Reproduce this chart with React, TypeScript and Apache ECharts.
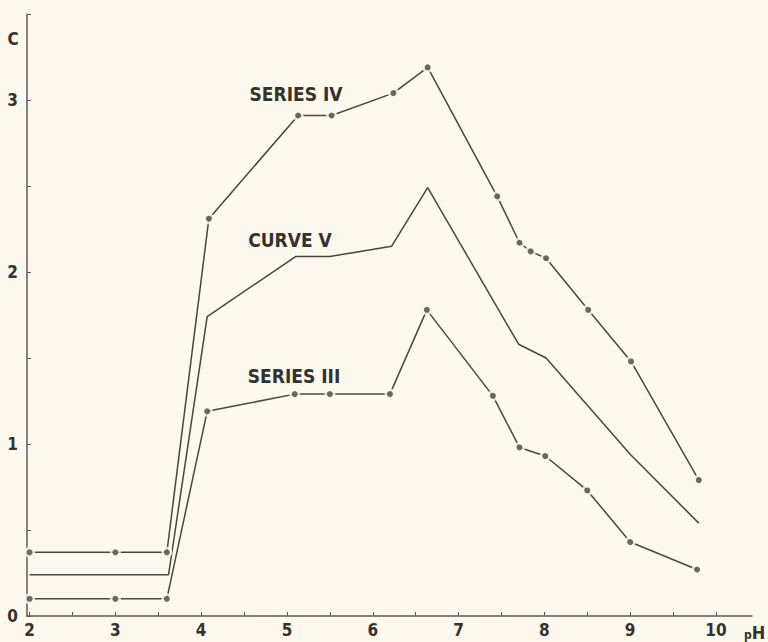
import React, { useEffect, useRef } from "react";
import * as echarts from "echarts";

// pH values and concentrations
const pHSeriesIV = [2, 3, 3.6, 4.09, 5.13, 5.52, 6.24, 6.64, 7.45, 7.71, 7.84, 8.02, 8.51, 9.01, 9.8];
const cSeriesIV = [0.37, 0.37, 0.37, 2.31, 2.91, 2.91, 3.04, 3.19, 2.44, 2.17, 2.12, 2.08, 1.78, 1.48, 0.79];

const pHSeriesIII = [2, 3, 3.6, 4.07, 5.09, 5.5, 6.2, 6.63, 7.4, 7.71, 8.01, 8.5, 9.0, 9.78];
const cSeriesIII = [0.1, 0.1, 0.1, 1.19, 1.29, 1.29, 1.29, 1.78, 1.28, 0.98, 0.93, 0.73, 0.43, 0.27];

const pHCurveV = [2, 3.62, 4.07, 5.1, 5.5, 6.22, 6.64, 7.7, 8.02, 9.0, 9.8];
const cCurveV = [0.24, 0.24, 1.74, 2.09, 2.09, 2.15, 2.49, 1.58, 1.5, 0.94, 0.54];

const xTickValues = [2, 2.5, 3, 3.5, 4, 4.5, 5, 5.5, 6, 6.5, 7, 7.5, 8, 8.5, 9, 9.5, 10];
const xLabelValues = [2, 3, 4, 5, 6, 7, 8, 9, 10];
const yLabelValues = [0, 1, 2, 3];

const BG = "#fdf9ee";
const INK = "#4a4541";
const AXIS = "#5e5954";
const TEXT = "#35312d";
const FONT = "'DejaVu Sans Condensed', 'DejaVu Sans', sans-serif";

const zip = (xs: number[], ys: number[]) => xs.map((x, i) => [x, ys[i]]);

export default function App() {
  const ref = useRef<HTMLDivElement>(null);

  useEffect(() => {
    if (!ref.current) return;
    const chart = echarts.init(ref.current, null, { renderer: "svg" });
    const iv = zip(pHSeriesIV, cSeriesIV);
    const iii = zip(pHSeriesIII, cSeriesIII);
    const v = zip(pHCurveV, cCurveV);
    const dots = [...iv, ...iii];

    const labelStyle = {
      fontSize: 19,
      fontWeight: "bold",
      fontFamily: FONT,
      fill: TEXT,
      align: "center",
      verticalAlign: "middle",
    };

    chart.setOption({
      animation: false,
      backgroundColor: BG,
      grid: { left: 27, right: 16, top: 14, bottom: 26, containLabel: false },
      xAxis: {
        type: "value",
        min: 1.97,
        max: 10.42,
        axisLine: { show: true, lineStyle: { color: AXIS, width: 1.5 } },
        axisTick: {
          show: true,
          inside: true,
          length: 4,
          customValues: xTickValues,
          lineStyle: { color: AXIS, width: 1 },
        },
        axisLabel: {
          customValues: xLabelValues,
          color: TEXT,
          fontSize: 17,
          fontWeight: "bold",
          fontFamily: FONT,
          margin: 5,
          formatter: (val: number) => String(val),
        },
        splitLine: { show: false },
      },
      yAxis: {
        type: "value",
        min: 0,
        max: 3.5,
        interval: 0.5,
        axisLine: { show: true, lineStyle: { color: AXIS, width: 1.5 } },
        axisTick: { show: true, inside: true, length: 4, lineStyle: { color: AXIS, width: 1 } },
        axisLabel: {
          color: TEXT,
          fontSize: 17,
          fontWeight: "bold",
          fontFamily: FONT,
          margin: 9,
          formatter: (val: number) => (yLabelValues.includes(val) ? String(val) : ""),
        },
        splitLine: { show: false },
      },
      series: [
        {
          name: "Series IV",
          type: "line",
          data: iv,
          showSymbol: false,
          silent: true,
          lineStyle: { color: INK, width: 1.5 },
          z: 2,
        },
        {
          name: "Curve V",
          type: "line",
          data: v,
          showSymbol: false,
          silent: true,
          lineStyle: { color: INK, width: 1.5 },
          z: 2,
        },
        {
          name: "Series III",
          type: "line",
          data: iii,
          showSymbol: false,
          silent: true,
          lineStyle: { color: INK, width: 1.5 },
          z: 2,
        },
        {
          name: "gaps",
          type: "scatter",
          data: dots,
          symbol: "circle",
          symbolSize: 11,
          silent: true,
          itemStyle: { color: BG },
          z: 3,
        },
        {
          name: "points",
          type: "scatter",
          data: dots,
          symbol: "circle",
          symbolSize: 6,
          silent: true,
          itemStyle: { color: INK },
          z: 4,
        },
      ],
      graphic: [
        { type: "text", x: 296, y: 94, style: { ...labelStyle, text: "SERIES IV" } },
        { type: "text", x: 290, y: 240, style: { ...labelStyle, text: "CURVE V" } },
        { type: "text", x: 294, y: 376, style: { ...labelStyle, text: "SERIES III" } },
        { type: "text", x: 13, y: 39, style: { ...labelStyle, fontSize: 17, text: "C" } },
        {
          type: "text",
          x: 744,
          y: 641,
          style: {
            text: "{p|p}{h|H}",
            fontFamily: FONT,
            fill: TEXT,
            align: "left",
            verticalAlign: "bottom",
            rich: {
              p: { fontSize: 12, fontWeight: "bold", fontFamily: FONT, fill: TEXT, verticalAlign: "bottom" },
              h: { fontSize: 18, fontWeight: "bold", fontFamily: FONT, fill: TEXT, verticalAlign: "bottom" },
            },
          },
        },
      ],
    });

    return () => chart.dispose();
  }, []);

  return (
    <div
      ref={ref}
      style={{ position: "fixed", left: 0, top: 0, width: 768, height: 642, background: BG }}
    />
  );
}
